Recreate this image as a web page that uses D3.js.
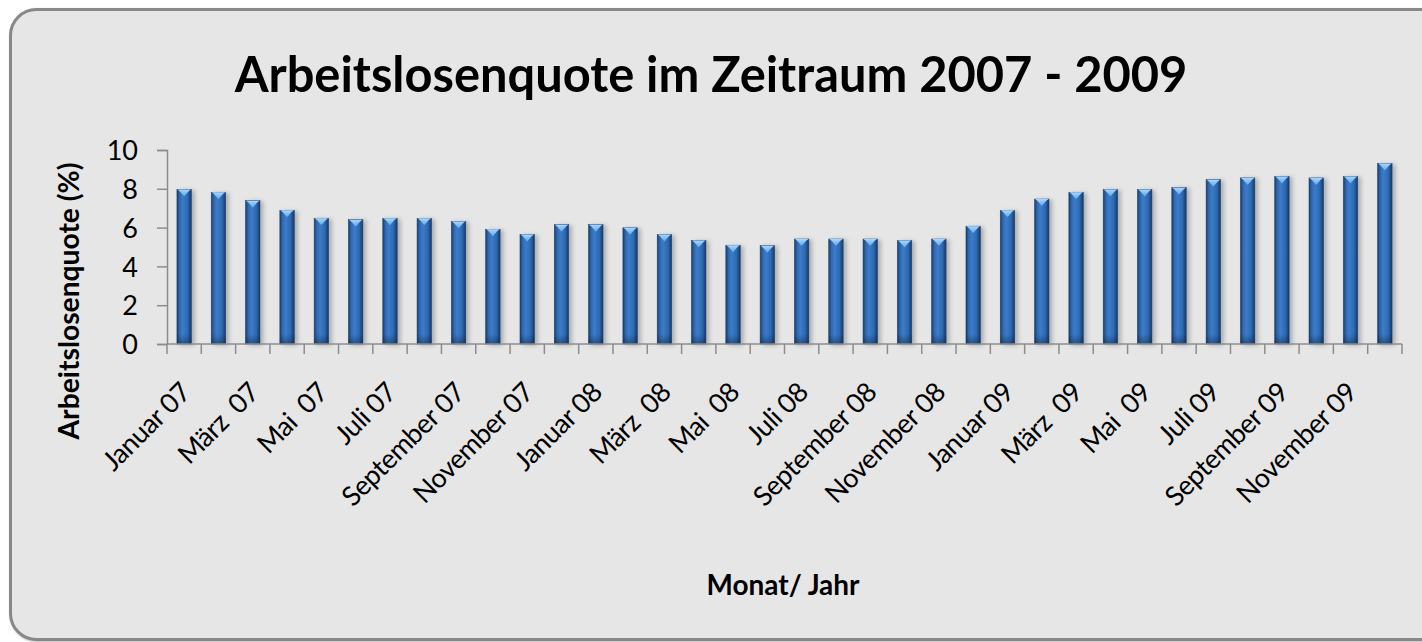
<!DOCTYPE html>
<html>
<head>
<meta charset="utf-8">
<script src="https://cdn.jsdelivr.net/npm/d3@7"></script>
<style>
  body { margin: 0; background: #ffffff; }
  text { font-family: Lato, "Open Sans", sans-serif; fill: #000; white-space: pre; }
</style>
</head>
<body>
<div id="chart"></div>
<script>
var months = ["Januar 07", "Februar 07", "März  07", "April 07", "Mai  07", "Juni 07",
              "Juli 07", "August 07", "September 07", "Oktober 07", "November 07", "Dezember 07",
              "Januar 08", "Februar 08", "März  08", "April 08", "Mai  08", "Juni 08",
              "Juli 08", "August 08", "September 08", "Oktober 08", "November 08", "Dezember 08",
              "Januar 09", "Februar 09", "März  09", "April 09", "Mai  09", "Juni 09",
              "Juli 09", "August 09", "September 09", "Oktober 09", "November 09", "Dezember 09"];
var quote = [7.97, 7.82, 7.39, 6.89, 6.48, 6.41, 6.48, 6.48, 6.32, 5.91, 5.65, 6.15,
             6.15, 5.99, 5.65, 5.34, 5.09, 5.07, 5.41, 5.41, 5.41, 5.33, 5.41, 6.07,
             6.89, 7.47, 7.82, 7.97, 7.97, 8.06, 8.47, 8.56, 8.64, 8.56, 8.64, 9.31];
var yTicks = [0, 2, 4, 6, 8, 10];

var title = "Arbeitslosenquote im Zeitraum 2007 - 2009";
var yTitle = "Arbeitslosenquote (%)";
var xTitle = "Monat/ Jahr";

var width = 1422, height = 642;
var plotLeft = 167, plotRight = 1402, plotTop = 150, plotBottom = 344;

var svg = d3.select("#chart").append("svg")
            .attr("width", width)
            .attr("height", height);

var defs = svg.append("defs");
var grad = defs.append("linearGradient").attr("id", "barGrad")
               .attr("x1", 0).attr("x2", 1).attr("y1", 0).attr("y2", 0);
grad.append("stop").attr("offset", "0%").attr("stop-color", "#1b3b66");
grad.append("stop").attr("offset", "18%").attr("stop-color", "#2f69ae");
grad.append("stop").attr("offset", "40%").attr("stop-color", "#3b7ccb");
grad.append("stop").attr("offset", "75%").attr("stop-color", "#2e68b0");
grad.append("stop").attr("offset", "100%").attr("stop-color", "#173660");

var shade = defs.append("linearGradient").attr("id", "bottomShade")
                .attr("x1", 0).attr("x2", 0).attr("y1", 0).attr("y2", 1);
shade.append("stop").attr("offset", "0%").attr("stop-color", "#0d2340").attr("stop-opacity", 0);
shade.append("stop").attr("offset", "100%").attr("stop-color", "#0d2340").attr("stop-opacity", 0.45);

var capGrad = defs.append("linearGradient").attr("id", "capGrad")
                  .attr("x1", 0).attr("x2", 0).attr("y1", 0).attr("y2", 1);
capGrad.append("stop").attr("offset", "0%").attr("stop-color", "#a9d8fb");
capGrad.append("stop").attr("offset", "100%").attr("stop-color", "#5fa6ea");

var shadow = defs.append("filter").attr("id", "shadow")
                 .attr("x", "-50%").attr("y", "-10%").attr("width", "200%").attr("height", "130%");
shadow.append("feDropShadow").attr("dx", 3).attr("dy", 1).attr("stdDeviation", 2)
      .attr("flood-color", "#000").attr("flood-opacity", 0.25);

var boxShadow = defs.append("filter").attr("id", "boxShadow");
boxShadow.append("feDropShadow").attr("dx", 1).attr("dy", 1).attr("stdDeviation", 1)
         .attr("flood-color", "#000").attr("flood-opacity", 0.3);

// chart area
svg.append("rect")
   .attr("x", 10.5).attr("y", 9.5)
   .attr("width", 1440).attr("height", 630)
   .attr("rx", 26).attr("ry", 26)
   .style("fill", "#e6e6e6")
   .style("stroke", "#888888")
   .style("stroke-width", 3)
   .attr("filter", "url(#boxShadow)");

var x = d3.scaleBand()
          .domain(months)
          .range([plotLeft, plotRight])
          .paddingInner(0.58)
          .paddingOuter(0.29);

var y = d3.scaleLinear()
          .domain([0, 10])
          .range([plotBottom, plotTop]);

// bars
var bars = svg.append("g");
var barG = bars.selectAll("g.bar")
               .data(quote)
               .enter().append("g")
               .attr("class", "bar");

barG.append("rect")
    .attr("x", function(d, i) { return x(months[i]); })
    .attr("y", function(d) { return y(d); })
    .attr("width", x.bandwidth())
    .attr("height", function(d) { return y(0) - y(d); })
    .style("fill", "url(#barGrad)")
    .style("stroke", "#1f4577")
    .style("stroke-width", 0.6)
    .attr("filter", "url(#shadow)");

barG.append("rect")
    .attr("x", function(d, i) { return x(months[i]); })
    .attr("y", function(d) { return y(0) - 10; })
    .attr("width", x.bandwidth())
    .attr("height", 10)
    .style("fill", "url(#bottomShade)");

barG.append("path")
    .attr("d", function(d, i) {
        var x0 = x(months[i]), w = x.bandwidth(), y0 = y(d);
        return "M" + (x0 + 0.5) + "," + y0 + "L" + (x0 + w - 0.5) + "," + y0 +
               "L" + (x0 + w - 3) + "," + (y0 + 2) + "L" + (x0 + w / 2) + "," + (y0 + 7) +
               "L" + (x0 + 3) + "," + (y0 + 2) + "Z";
    })
    .style("fill", "url(#capGrad)");

// y axis
var yAxis = svg.append("g")
               .attr("transform", "translate(" + plotLeft + ",0)")
               .call(d3.axisLeft(y).tickValues(yTicks).tickSize(10).tickPadding(19));
yAxis.select(".domain").style("stroke", "#8c8c8c").style("stroke-width", 1.5);
yAxis.selectAll(".tick line").style("stroke", "#8c8c8c").style("stroke-width", 1.5);
yAxis.selectAll(".tick text")
     .attr("dy", "0.36em")
     .style("font-size", "27px")
     .style("font-family", "Lato, sans-serif")
     .style("fill", "#000");

// x axis: line with ticks at the band boundaries
var xAxisG = svg.append("g");
xAxisG.append("line")
      .attr("x1", plotLeft).attr("x2", plotRight)
      .attr("y1", plotBottom).attr("y2", plotBottom)
      .style("stroke", "#8c8c8c").style("stroke-width", 1.5);
var bounds = months.map(function(m) { return x(m) - x.step() * x.paddingInner() / 2; }).concat([plotRight]);
xAxisG.selectAll("line.tick")
      .data(bounds)
      .enter().append("line")
      .attr("class", "tick")
      .attr("x1", function(d) { return d; }).attr("x2", function(d) { return d; })
      .attr("y1", plotBottom).attr("y2", plotBottom + 10)
      .style("stroke", "#8c8c8c").style("stroke-width", 1.5);

xAxisG.selectAll("text.lab")
      .data(months.filter(function(m, i) { return i % 2 == 0; }))
      .enter().append("text")
      .attr("class", "lab")
      .attr("transform", function(d) {
          return "translate(" + (x(d) + x.bandwidth() / 2 + 8) + "," + (plotBottom + 50) + ") rotate(-45)";
      })
      .attr("text-anchor", "end")
      .style("font-size", "27px")
      .style("letter-spacing", "-0.5px")
      .text(function(d) { return d; });

// titles
var fit = function(sel, w) {
    var len = sel.node().getComputedTextLength();
    var fs = parseFloat(sel.style("font-size"));
    sel.style("font-size", (fs * w / len) + "px");
};

var t = svg.append("text")
           .attr("x", 711).attr("y", 92)
           .attr("text-anchor", "middle")
           .style("font-size", "50px")
           .style("font-weight", "bold")
           .text(title);
fit(t, 953);

var yt = svg.append("text")
            .attr("transform", "translate(79,301) rotate(-90)")
            .attr("text-anchor", "middle")
            .style("font-size", "24px")
            .style("font-weight", "bold")
            .text(yTitle);
fit(yt, 277);

var xt = svg.append("text")
            .attr("x", 783).attr("y", 595)
            .attr("text-anchor", "middle")
            .style("font-size", "24px")
            .style("font-weight", "bold")
            .text(xTitle);
fit(xt, 153);
</script>
</body>
</html>
